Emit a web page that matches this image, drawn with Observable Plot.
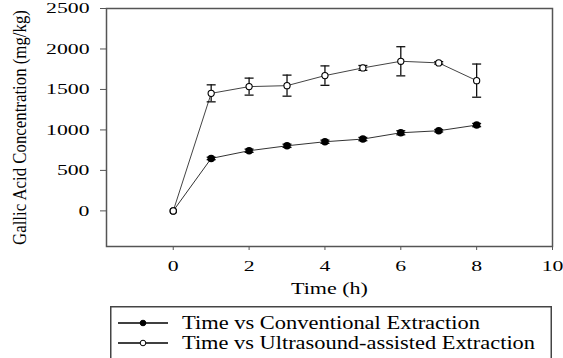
<!DOCTYPE html>
<html>
<head>
<meta charset="utf-8">
<script src="https://cdn.jsdelivr.net/npm/d3@7"></script>
<script src="https://cdn.jsdelivr.net/npm/@observablehq/plot@0.6"></script>
<style>
  html, body { margin: 0; padding: 0; background: #fff; overflow: hidden; width: 563px; height: 358px; }
  #chart svg { display: block; }
  #legend { margin-left: 110px; margin-top: 2px; }
</style>
</head>
<body>
<div id="chart"></div>
<div id="legend"></div>
<script>
// Data
const time = [0, 1, 2, 3, 4, 5, 6, 7, 8];
const conventional = [0, 648, 743, 804, 854, 887, 965, 990, 1060];
const conventionalErr = [0, 15, 20, 20, 20, 20, 25, 15, 20];
const ultrasound = [0, 1452, 1535, 1547, 1671, 1766, 1848, 1828, 1609];
const ultrasoundErr = [0, 105, 105, 130, 120, 30, 180, 15, 205];
const seriesNames = ["Time vs Conventional Extraction", "Time vs Ultrasound-assisted Extraction"];
const xTicks = [0, 2, 4, 6, 8, 10];
const yTicks = [0, 500, 1000, 1500, 2000, 2500];
const xLabel = "Time (h)";
const yLabel = "Gallic Acid Concentration (mg/kg)";

const conv = time.map((t, i) => ({t, v: conventional[i], e: conventionalErr[i]}));
const ultra = time.map((t, i) => ({t, v: ultrasound[i], e: ultrasoundErr[i]}));

const capSymbol = {
  draw(ctx, size) {
    const r = Math.sqrt(size / Math.PI);
    ctx.moveTo(-r, 0);
    ctx.lineTo(r, 0);
  }
};

function errMarks(data) {
  const d = data.filter(p => p.e > 0);
  return [
    Plot.ruleX(d, {x: "t", y1: p => p.v - p.e, y2: p => p.v + p.e, stroke: "#111", strokeWidth: 1.3}),
    Plot.dot(d, {x: "t", y: p => p.v + p.e, symbol: capSymbol, r: 4.5, stroke: "#111", strokeWidth: 1.3}),
    Plot.dot(d, {x: "t", y: p => p.v - p.e, symbol: capSymbol, r: 4.5, stroke: "#111", strokeWidth: 1.3})
  ];
}

const chart = Plot.plot({
  width: 563,
  height: 304,
  marginLeft: 106,
  marginRight: 11,
  marginTop: 8,
  marginBottom: 58,
  style: {fontFamily: "'Liberation Serif', serif", fontSize: "15px", color: "#000", background: "#fff", overflow: "visible"},
  x: {domain: [-1.76, 10]},
  y: {domain: [-440, 2500]},
  marks: [
    Plot.axisX({ticks: xTicks, tickFormat: d3.format("d"), tickSize: 4, tickPadding: 10, label: null, stroke: "#555", fill: "#000"}),
    Plot.axisY({ticks: yTicks, tickFormat: d3.format("d"), tickSize: 6, tickPadding: 11, label: null, stroke: "#555", fill: "#000"}),
    Plot.frame({stroke: "#555", strokeWidth: 1.5}),
    Plot.line(conv, {x: "t", y: "v", stroke: "#333", strokeWidth: 1}),
    Plot.line(ultra, {x: "t", y: "v", stroke: "#444", strokeWidth: 1}),
    ...errMarks(conv),
    ...errMarks(ultra),
    Plot.dot(conv, {x: "t", y: "v", r: 3, fill: "#000", stroke: "#000"}),
    Plot.dot(ultra, {x: "t", y: "v", r: 3.1, fill: "#fff", stroke: "#000", strokeWidth: 1.1}),
    Plot.text([yLabel], {frameAnchor: "left", textAnchor: "middle", dx: -86, rotate: -90, fontSize: 18, text: d => d, fill: "#000"}),
    Plot.text([xLabel], {frameAnchor: "bottom", textAnchor: "middle", dy: 47, fontSize: 17, text: d => d, fill: "#000"})
  ]
});
document.getElementById("chart").appendChild(chart);

// Stretch each text along its own reading direction around its anchor
function stretch(t, k) {
  const b = t.getBBox();
  const anchor = getComputedStyle(t).textAnchor;
  const ax = anchor === "end" ? b.x + b.width : anchor === "middle" ? b.x + b.width / 2 : b.x;
  const tr = t.getAttribute("transform") || "";
  t.setAttribute("transform", `${tr} translate(${ax},0) scale(${k},1) translate(${-ax},0)`);
}
chart.querySelectorAll('text').forEach(t => {
  const s = t.textContent;
  const w = t.getBBox().width;
  if (s === yLabel) stretch(t, 235 / w);
  else if (s === xLabel) stretch(t, 77 / w);
  else stretch(t, 1.45);
});

// Legend below the chart
const lw = 442, lh = 62;
const leg = d3.select("#legend").append("svg")
  .attr("width", lw).attr("height", lh)
  .style("display", "block")
  .style("font-family", "'Liberation Serif', serif");
leg.append("rect").attr("x", 0.75).attr("y", 0.75).attr("width", lw - 1.5).attr("height", lh)
  .attr("fill", "#fff").attr("stroke", "#444").attr("stroke-width", 1.5);
const rows = [
  {name: seriesNames[0], fill: "#000", y: 17, len: 298},
  {name: seriesNames[1], fill: "#fff", y: 37, len: 353}
];
rows.forEach(r => {
  leg.append("line").attr("x1", 8).attr("x2", 58).attr("y1", r.y).attr("y2", r.y).attr("stroke", "#000").attr("stroke-width", 1.3);
  leg.append("circle").attr("cx", 33).attr("cy", r.y).attr("r", 2.8).attr("fill", r.fill).attr("stroke", "#000").attr("stroke-width", 1);
  leg.append("text").attr("x", 72).attr("y", r.y).attr("dy", "0.35em").attr("font-size", 18)
    .attr("textLength", r.len).attr("lengthAdjust", "spacingAndGlyphs").attr("fill", "#000").text(r.name);
});
</script>
</body>
</html>
